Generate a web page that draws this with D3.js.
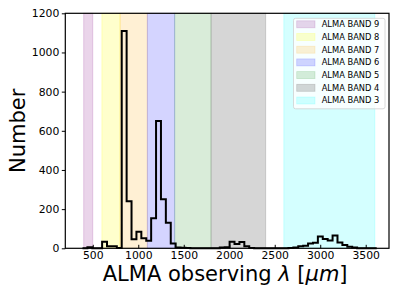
<!DOCTYPE html>
<html>
<head>
<meta charset="utf-8">
<script src="https://cdn.jsdelivr.net/npm/d3@7"></script>
<style>
  body { margin: 0; background: #fff; }
  svg { display: block; font-family: "DejaVu Sans", sans-serif; }
</style>
</head>
<body>
<svg id="chart" width="399" height="299"></svg>
<script>
// ALMA bands (wavelength, micron)
var bandNames = ['ALMA BAND 9', 'ALMA BAND 8', 'ALMA BAND 7', 'ALMA BAND 6', 'ALMA BAND 5', 'ALMA BAND 4', 'ALMA BAND 3'];
var bandLo = [400, 600, 800, 1100, 1400, 1800, 2600];
var bandHi = [500, 800, 1100, 1400, 1800, 2400, 3600];
var bandColors = ['#800080', '#ffff00', '#ffa500', '#0000ff', '#008000', '#808080', '#00ffff'];
var bandAlpha = [0.17, 0.2, 0.17, 0.17, 0.15, 0.32, 0.17];

// histogram
var binStart = 387;
var binWidth = 53.9;
var counts = [0, 6, 0, 0, 34, 10, 10, 2, 1110, 240,
	46, 85, 51, 39, 153, 650, 250, 130, 25, 4,
	3, 2, 0, 0, 0, 0, 0, 0, 4, 5,
	34, 22, 32, 10, 2, 0, 0, 0, 0, 0,
	0, 0, 2, 4, 10, 13, 25, 28, 60, 48,
	40, 66, 30, 17, 8, 4, 0, 0, 0, 0];

var xTicks = [500, 1000, 1500, 2000, 2500, 3000, 3500];
var yTicks = [0, 200, 400, 600, 800, 1000, 1200];

/*=== layout ===*/
var pLeft = 65.3, pTop = 13.3, pRight = 389, pBottom = 248.3;

var svg = d3.select('#chart');

var x = d3.scaleLinear().domain([198, 3756]).range([pLeft, pRight]);
var y = d3.scaleLinear().domain([0, 1200]).range([pBottom, pTop]);

var plot = svg.append('g');

// band spans
plot.selectAll('.band')
	.data(bandNames)
	.enter()
	.append('rect')
	.attr('class', 'band')
	.attr('x', function (d, i) { return x(bandLo[i]); })
	.attr('width', function (d, i) { return x(bandHi[i]) - x(bandLo[i]); })
	.attr('y', pTop)
	.attr('height', pBottom - pTop)
	.attr('fill', function (d, i) { return bandColors[i]; })
	.attr('fill-opacity', function (d, i) { return bandAlpha[i]; })
	.attr('stroke', function (d, i) { return bandColors[i]; })
	.attr('stroke-opacity', function (d, i) { return bandAlpha[i]; })
	.attr('stroke-width', 1);

// step outline
var pts = [[binStart, 0]];
counts.forEach(function (c, i) {
	pts.push([binStart + i * binWidth, c]);
	pts.push([binStart + (i + 1) * binWidth, c]);
});
pts.push([binStart + counts.length * binWidth, 0]);

var stepLine = d3.line()
	.x(function (d) { return x(d[0]); })
	.y(function (d) { return y(d[1]); });

plot.append('path')
	.datum(pts)
	.attr('d', stepLine)
	.attr('fill', 'none')
	.attr('stroke', '#000')
	.attr('stroke-width', 2)
	.attr('stroke-linejoin', 'miter');

// axes
var xAxis = svg.append('g')
	.attr('transform', 'translate(0,' + pBottom + ')')
	.call(d3.axisBottom(x).tickValues(xTicks).tickFormat(d3.format('d'))
		.tickSizeInner(-3.5).tickSizeOuter(0).tickPadding(3.5));
var yAxis = svg.append('g')
	.attr('transform', 'translate(' + pLeft + ',0)')
	.call(d3.axisLeft(y).tickValues(yTicks).tickFormat(d3.format('d'))
		.tickSizeInner(3.5).tickSizeOuter(0).tickPadding(2.5));

[xAxis, yAxis].forEach(function (a) {
	a.select('.domain').remove();
	a.selectAll('text').attr('font-family', '"DejaVu Sans", sans-serif').attr('font-size', 10.8).attr('fill', '#000');
	a.selectAll('line').attr('stroke', '#000').attr('stroke-width', 1);
});

// frame
svg.append('rect')
	.attr('x', pLeft).attr('y', pTop)
	.attr('width', pRight - pLeft).attr('height', pBottom - pTop)
	.attr('fill', 'none').attr('stroke', '#000').attr('stroke-width', 1.2);

// labels
var xl = svg.append('text')
	.attr('x', (pLeft + pRight) / 2 - 2)
	.attr('y', 281)
	.attr('text-anchor', 'middle')
	.attr('font-size', 21);
xl.append('tspan').text('ALMA observing ');
xl.append('tspan').attr('font-style', 'italic').text('λ');
xl.append('tspan').text(' [');
xl.append('tspan').attr('font-style', 'italic').text('μm');
xl.append('tspan').text(']');

svg.append('text')
	.attr('transform', 'translate(25,' + (pTop + pBottom) / 2 + ') rotate(-90)')
	.attr('text-anchor', 'middle')
	.attr('font-size', 21)
	.text('Number');

// legend
var leg = svg.append('g');
leg.append('rect')
	.attr('x', 293.5).attr('y', 18.3)
	.attr('width', 91.5).attr('height', 90.5)
	.attr('rx', 2)
	.attr('fill', '#fff').attr('fill-opacity', 0.8)
	.attr('stroke', '#d0d0d0').attr('stroke-width', 0.8);

var rows = leg.selectAll('.row')
	.data(bandNames)
	.enter()
	.append('g')
	.attr('transform', function (d, i) { return 'translate(0,' + (24.3 + i * 12.7) + ')'; });

rows.append('rect')
	.attr('x', 296.7).attr('y', -3.5)
	.attr('width', 18.3).attr('height', 7)
	.attr('fill', function (d, i) { return bandColors[i]; })
	.attr('fill-opacity', function (d, i) { return bandAlpha[i]; })
	.attr('stroke', function (d, i) { return bandColors[i]; })
	.attr('stroke-opacity', function (d, i) { return bandAlpha[i]; })
	.attr('stroke-width', 0.8);

rows.append('text')
	.attr('x', 321.7)
	.attr('dy', '0.35em')
	.attr('font-size', 8.3)
	.text(function (d) { return d; });
</script>
</body>
</html>
